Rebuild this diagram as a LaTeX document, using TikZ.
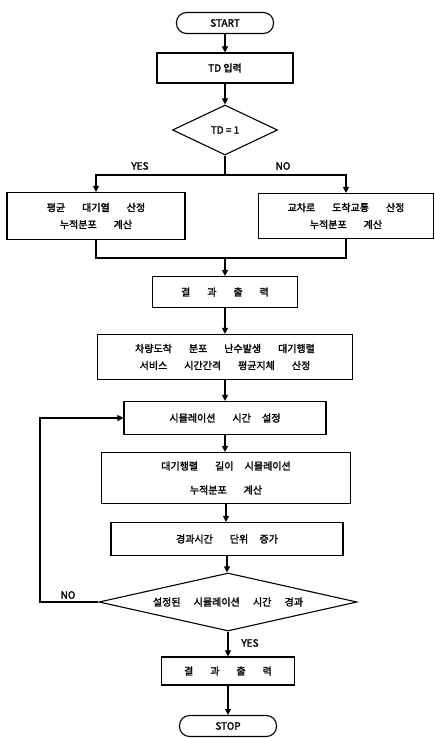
\documentclass[tikz,border=0pt]{standalone}
\usepackage{fontspec}
\usetikzlibrary{arrows.meta,shapes.geometric}
\newfontfamily\kor{Noto Sans CJK KR}[AutoFakeBold=2]
\newcommand{\kfont}{\kor\bfseries\fontsize{10}{17}\selectfont}
\newcommand{\gap}{\hspace{17pt}}

\begin{document}
\begin{tikzpicture}[x=1pt,y=-1pt,line width=1.1pt,>={Triangle[length=6pt,width=6pt]},
  box/.style={draw,rectangle,inner sep=0pt,align=center,font=\kfont},
  term/.style={draw,rectangle,rounded corners=10pt,inner sep=0pt,minimum width=97pt,minimum height=21pt,font=\kfont},
  decision/.style={draw,diamond,inner sep=0pt,font=\kfont},
  tag/.style={font=\kfont}]
\useasboundingbox (0,0) rectangle (435,738);
% upper part
\node[term] (start) at (225,23) {START};
\node[box,minimum width=136pt,minimum height=30pt] (td) at (225,68) {TD 입력};
\node[decision,minimum width=105pt,minimum height=50pt] (d1) at (225,130) {\makebox[0pt]{TD = 1}};
\coordinate (sp) at (225,175);
\node[tag] (yes1) at (140,166) {YES};
\node[tag] (no1) at (283,166) {NO};
\node[box,minimum width=178pt,minimum height=47pt] (lb) at (96,216)
  {평균\gap 대기열\gap 산정\\누적분포\gap 계산};
\node[box,minimum width=175pt,minimum height=45pt] (rb) at (346,216)
  {교차로\gap 도착교통\gap 산정\\누적분포\gap 계산};
\coordinate (mg) at (225,258);
\node[box,minimum width=145pt,minimum height=31pt] (r1) at (225,292) {결\gap 과\gap 출\gap 력};
\node[box,minimum width=255pt,minimum height=45pt] (big) at (225,357)
  {차량도착\gap 분포\gap 난수발생\gap 대기행렬\\서비스\gap 시간간격\gap 평균지체\gap 산정};
% simulation loop
\node[box,minimum width=202pt,minimum height=33pt] (st) at (225,418) {시뮬레이션\gap 시간\hspace{9pt} 설정};
\node[box,minimum width=249pt,minimum height=51pt] (calc) at (226,478)
  {대기행렬\gap 길이\hspace{9pt} 시뮬레이션\\[7pt]누적분포\gap 계산};
\node[box,minimum width=232pt,minimum height=33pt] (inc) at (227,539) {경과시간\gap 단위\hspace{9pt} 증가};
\node[decision,minimum width=258pt,minimum height=58pt] (d2) at (228,602)
  {\makebox[0pt]{설정된\hspace{11pt} 시뮬레이션\hspace{11pt} 시간\hspace{11pt} 경과}};
\coordinate (lp) at (40,602);
\node[tag] (no2) at (68,595) {NO};
\node[tag] (yes2) at (250,643) {YES};
\node[box,minimum width=133pt,minimum height=28pt] (out) at (228,671) {결\gap 과\gap 출\gap 력};
\node[term] (stop) at (228,726) {STOP};
% connectors
\draw[->] (start.south) -- (td.north);
\draw[->] (td.south) -- (d1.north);
\draw (d1.south) -- (sp);
\draw[->] (sp) -| (lb.north);
\draw[->] (sp) -| (rb.north);
\draw (lb.south) |- (mg) -| (rb.south);
\draw[->] (mg) -- (r1.north);
\draw[->] (r1.south) -- (big.north);
\draw[->] (big.south) -- (st.north);
\draw[->] (st.south) -- (st.south |- calc.north);
\draw[->] (calc.south) -- (calc.south |- inc.north);
\draw[->] (inc.south) -- (inc.south |- d2.north);
\draw[->] (d2.west) -- (lp) |- (st.west);
\draw[->] (d2.south) -- (out.north);
\draw[->] (out.south) -- (stop.north);
\end{tikzpicture}
\end{document}
